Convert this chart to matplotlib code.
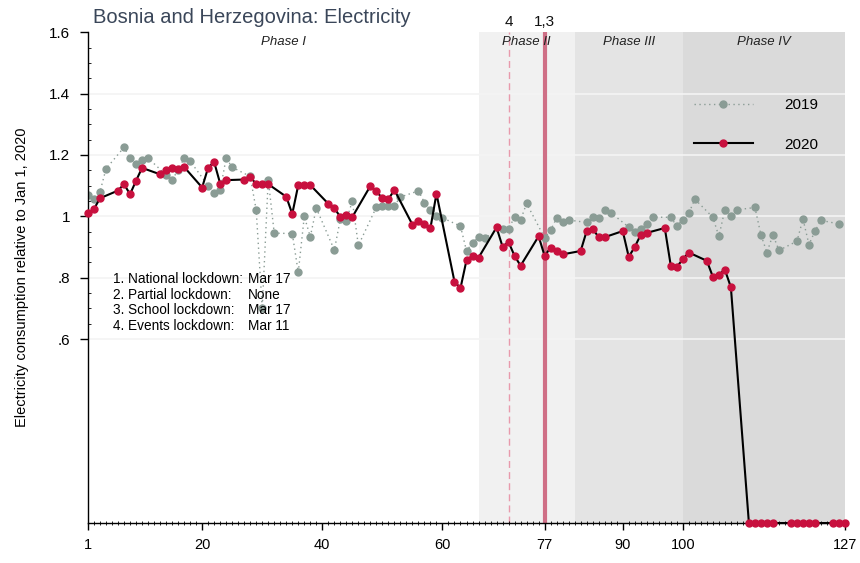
import matplotlib
matplotlib.use("Agg")
import matplotlib.pyplot as plt
from matplotlib.ticker import FixedLocator, MultipleLocator

plt.rcParams['font.family'] = ['Liberation Sans', 'DejaVu Sans']

# 2019 series (weekdays only)
days_2019 = [1, 2, 3, 4, 7, 8, 9, 10, 11, 14, 15, 16, 17, 18, 21, 22, 23, 24, 25,
             28, 29, 30, 31, 32, 35, 36, 37, 38, 39, 42, 43, 44, 45, 46,
             49, 50, 51, 52, 53, 56, 57, 58, 59, 60, 63, 64, 65, 66, 67,
             70, 71, 72, 73, 74, 77, 78, 79, 80, 81, 84, 85, 86, 87, 88,
             91, 92, 93, 94, 95, 98, 99, 100, 101, 102, 105, 106, 107, 108, 109,
             112, 113, 114, 115, 116, 119, 120, 121, 122, 123, 126]
vals_2019 = [1.07, 1.055, 1.08, 1.155, 1.225, 1.19, 1.17, 1.185, 1.19,
             1.135, 1.12, 1.15, 1.19, 1.18, 1.10, 1.075, 1.085, 1.19, 1.16,
             1.13, 1.02, 0.70, 1.12, 0.945, 0.944, 0.817, 1.00, 0.933, 1.027,
             0.89, 0.99, 0.986, 1.05, 0.905, 1.03, 1.035, 1.035, 1.035, 1.063,
             1.083, 1.045, 1.02, 1.0, 0.995, 0.968, 0.887, 0.914, 0.932, 0.93,
             0.96, 0.96, 0.997, 0.988, 1.042, 0.93, 0.954, 0.995, 0.982, 0.988,
             0.98, 0.999, 0.993, 1.022, 1.012, 0.965, 0.95, 0.96, 0.975, 0.997,
             0.997, 0.968, 0.989, 1.01, 1.056, 0.997, 0.935, 1.021, 1.002, 1.021,
             1.029, 0.94, 0.882, 0.94, 0.889, 0.919, 0.991, 0.908, 0.952, 0.987,
             0.975]

# 2020 series (weekdays only)
days_2020 = [1, 2, 3, 6, 7, 8, 9, 10, 13, 14, 15, 16, 17, 20, 21, 22, 23, 24,
             27, 28, 29, 30, 31, 34, 35, 36, 37, 38, 41, 42, 43, 44, 45,
             48, 49, 50, 51, 52, 55, 56, 57, 58, 59, 62, 63, 64, 65, 66,
             69, 70, 71, 72, 73, 76, 77, 78, 79, 80, 83, 84, 85, 86, 87,
             90, 91, 92, 93, 94, 97, 98, 99, 100, 101, 104, 105, 106, 107, 108,
             111, 112, 113, 114, 115, 118, 119, 120, 121, 122, 125, 126, 127]
vals_2020 = [1.011, 1.024, 1.059, 1.084, 1.105, 1.072, 1.116, 1.158,
             1.137, 1.15, 1.156, 1.153, 1.161, 1.094, 1.159, 1.177, 1.107, 1.118,
             1.12, 1.129, 1.105, 1.105, 1.105, 1.064, 1.008, 1.102, 1.102, 1.102,
             1.041, 1.027, 0.998, 1.005, 0.998, 1.099, 1.081, 1.059, 1.056, 1.086,
             0.973, 0.984, 0.975, 0.962, 1.074, 0.787, 0.766, 0.857, 0.871, 0.865,
             0.964, 0.901, 0.916, 0.871, 0.839, 0.935, 0.871, 0.898, 0.887, 0.876,
             0.887, 0.952, 0.959, 0.932, 0.932, 0.952, 0.868, 0.90, 0.94, 0.946,
             0.962, 0.839, 0.835, 0.86, 0.882, 0.855, 0.803, 0.81, 0.826, 0.769,
             0, 0, 0, 0, 0, 0, 0, 0, 0, 0, 0, 0, 0]

# phases
phase_names = ["Phase I", "Phase II", "Phase III", "Phase IV"]
phase_edges = [1, 66, 82, 100, 127]
phase_colors = ["white", "#f1f1f1", "#e4e4e4", "#dadada"]

# lockdown events
event_days = [71, 77]
event_tags = ["4", "1,3"]
legend_lines = ["1. National lockdown:", "2. Partial lockdown:", "3. School lockdown:", "4. Events lockdown:"]
legend_dates = ["Mar 17", "None", "Mar 17", "Mar 11"]

x_ticks = [1, 20, 40, 60, 77, 90, 100, 127]
y_ticks = [0.6, 0.8, 1.0, 1.2, 1.4, 1.6]
y_labels = [".6", ".8", "1", "1.2", "1.4", "1.6"]

fig = plt.figure(figsize=(8.6, 5.63), dpi=100)
ax = fig.add_axes([0.1023, 0.071, 0.8803, 0.8716])

for i in range(4):
    ax.axvspan(phase_edges[i], phase_edges[i + 1], color=phase_colors[i], zorder=0, lw=0)
    ax.text((phase_edges[i] + phase_edges[i + 1]) / 2, 1.588, phase_names[i],
            ha="center", va="top", fontsize=9.5, style="italic", color="#222222")

for yv in y_ticks[:-1]:
    ax.axhline(yv, color="#f4f4f4", lw=1.2, zorder=0.5)

# event lines
ax.axvline(event_days[0], color="#e89aac", lw=1, ls=(0, (5, 3)), zorder=1)
ax.axvline(event_days[1], color="#cf6f86", lw=3, zorder=1)
for d, t in zip(event_days, event_tags):
    ax.text(d, 1.612, t, ha="center", va="bottom", fontsize=11, color="#111111")

ax.plot(days_2019, vals_2019, color="#8a9c95", ls=(0, (1, 2.5)), lw=1,
        marker="o", ms=5, mec="#8a9c95", mfc="#8a9c95", label="2019", zorder=2)
ax.plot(days_2020, vals_2020, color="black", lw=1.5,
        marker="o", ms=5, mec="#c8103e", mfc="#c8103e", label="2020", zorder=3, clip_on=False)

ax.legend(loc="upper left", bbox_to_anchor=(0.79, 0.882), frameon=False, fontsize=11,
          handlelength=3.9, handletextpad=2.0, labelspacing=1.7, borderpad=0)

# lockdown notes
for i, (a, b) in enumerate(zip(legend_lines, legend_dates)):
    yy = 0.796 - i * 0.051
    ax.text(5.1, yy, a, fontsize=9.8, va="center", ha="left")
    ax.text(27.6, yy, b, fontsize=9.8, va="center", ha="left")

ax.set_xlim(1, 127)
ax.set_ylim(0, 1.6)
ax.xaxis.set_major_locator(FixedLocator(x_ticks))
ax.xaxis.set_minor_locator(MultipleLocator(1))
ax.set_xticklabels([str(t) for t in x_ticks])
ax.yaxis.set_major_locator(FixedLocator(y_ticks))
ax.set_yticklabels(y_labels)
ax.yaxis.set_minor_locator(FixedLocator([0.6 + 0.05 * k for k in range(21)]))
ax.tick_params(axis="x", which="major", direction="out", length=5, width=1, labelsize=10.5, pad=6)
ax.tick_params(axis="y", which="major", direction="out", length=6, width=1, labelsize=11, pad=7)
ax.tick_params(axis="x", which="minor", direction="inout", length=3, width=0.6)
ax.tick_params(axis="y", which="minor", direction="in", length=2, width=0.6)

for s in ["top", "right"]:
    ax.spines[s].set_visible(False)
ax.spines["left"].set_linewidth(1)
ax.spines["bottom"].set_linewidth(1)

ax.set_ylabel("Electricity consumption relative to Jan 1, 2020", fontsize=10.5, labelpad=14)
fig.text(0.108, 0.985, "Bosnia and Herzegovina: Electricity", fontsize=14.5, color="#3a4659",
         ha="left", va="top")

fig.savefig("out.png", dpi=100)
